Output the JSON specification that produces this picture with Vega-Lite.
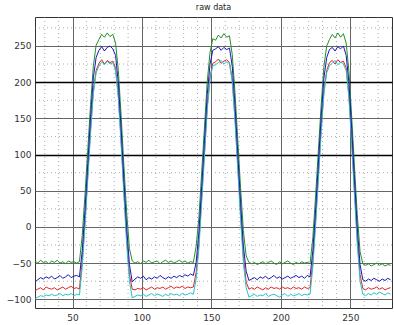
{
  "$schema": "https://vega.github.io/schema/vega-lite/v6.json",
  "width": 357,
  "height": 291,
  "autosize": {"type": "none"},
  "padding": {"left": 35, "top": 17, "right": 2, "bottom": 17},
  "background": "white",
  "title": {"text": "raw data", "fontSize": 8, "fontWeight": "normal", "font": "DejaVu Sans", "color": "#222", "offset": 5},
  "config": {
    "view": {"stroke": "#333", "strokeWidth": 1},
    "axis": {"labelFont": "DejaVu Sans", "labelFontSize": 9, "labelColor": "#333", "ticks": false, "domain": false, "title": null}
  },
  "datasets": {
    "raw": [
      {"x":23,"g":-47,"b":-76,"r":-88,"c":-99},
      {"x":25,"g":-50,"b":-73,"r":-86,"c":-97},
      {"x":27,"g":-46,"b":-70,"r":-84,"c":-95},
      {"x":29,"g":-49,"b":-72,"r":-87,"c":-96},
      {"x":31,"g":-48,"b":-69,"r":-83,"c":-94},
      {"x":33,"g":-51,"b":-71,"r":-85,"c":-95},
      {"x":35,"g":-47,"b":-68,"r":-86,"c":-93},
      {"x":37,"g":-49,"b":-72,"r":-84,"c":-95},
      {"x":39,"g":-46,"b":-70,"r":-87,"c":-94},
      {"x":41,"g":-50,"b":-67,"r":-85,"c":-92},
      {"x":43,"g":-48,"b":-71,"r":-83,"c":-95},
      {"x":45,"g":-51,"b":-69,"r":-86,"c":-93},
      {"x":47,"g":-47,"b":-66,"r":-84,"c":-94},
      {"x":49,"g":-49,"b":-70,"r":-82,"c":-92},
      {"x":51,"g":-48,"b":-68,"r":-85,"c":-95},
      {"x":53,"g":-50,"b":-67,"r":-84,"c":-93},
      {"x":55,"g":-48,"b":-69,"r":-86,"c":-94},
      {"x":57,"g":-12,"b":-33,"r":-47,"c":-56},
      {"x":59,"g":45,"b":24,"r":9,"c":2},
      {"x":61,"g":107,"b":88,"r":72,"c":66},
      {"x":63,"g":169,"b":152,"r":135,"c":130},
      {"x":65,"g":222,"b":206,"r":188,"c":184},
      {"x":67,"g":251,"b":234,"r":216,"c":213},
      {"x":69,"g":259,"b":244,"r":226,"c":222},
      {"x":71,"g":266,"b":249,"r":231,"c":228},
      {"x":73,"g":262,"b":243,"r":225,"c":224},
      {"x":75,"g":268,"b":248,"r":230,"c":229},
      {"x":77,"g":263,"b":250,"r":227,"c":225},
      {"x":79,"g":266,"b":246,"r":229,"c":227},
      {"x":81,"g":254,"b":237,"r":220,"c":216},
      {"x":83,"g":216,"b":199,"r":182,"c":178},
      {"x":85,"g":154,"b":136,"r":119,"c":114},
      {"x":87,"g":85,"b":66,"r":50,"c":44},
      {"x":89,"g":20,"b":-1,"r":-16,"c":-24},
      {"x":91,"g":-30,"b":-52,"r":-66,"c":-75},
      {"x":93,"g":-47,"b":-76,"r":-86,"c":-98},
      {"x":95,"g":-50,"b":-72,"r":-87,"c":-96},
      {"x":97,"g":-48,"b":-69,"r":-85,"c":-94},
      {"x":99,"g":-51,"b":-71,"r":-86,"c":-95},
      {"x":101,"g":-47,"b":-68,"r":-84,"c":-93},
      {"x":103,"g":-49,"b":-73,"r":-87,"c":-96},
      {"x":105,"g":-46,"b":-70,"r":-85,"c":-94},
      {"x":107,"g":-50,"b":-72,"r":-83,"c":-92},
      {"x":109,"g":-48,"b":-69,"r":-86,"c":-95},
      {"x":111,"g":-47,"b":-71,"r":-84,"c":-93},
      {"x":113,"g":-51,"b":-67,"r":-85,"c":-94},
      {"x":115,"g":-48,"b":-70,"r":-83,"c":-96},
      {"x":117,"g":-46,"b":-72,"r":-86,"c":-93},
      {"x":119,"g":-49,"b":-69,"r":-84,"c":-95},
      {"x":121,"g":-47,"b":-71,"r":-82,"c":-92},
      {"x":123,"g":-50,"b":-68,"r":-85,"c":-94},
      {"x":125,"g":-48,"b":-70,"r":-83,"c":-93},
      {"x":127,"g":-46,"b":-67,"r":-84,"c":-95},
      {"x":129,"g":-49,"b":-69,"r":-82,"c":-92},
      {"x":131,"g":-47,"b":-66,"r":-85,"c":-94},
      {"x":133,"g":-50,"b":-68,"r":-83,"c":-93},
      {"x":135,"g":-48,"b":-65,"r":-84,"c":-91},
      {"x":137,"g":-49,"b":-67,"r":-83,"c":-93},
      {"x":139,"g":-27,"b":-49,"r":-63,"c":-72},
      {"x":141,"g":13,"b":-7,"r":-22,"c":-30},
      {"x":143,"g":76,"b":56,"r":41,"c":34},
      {"x":145,"g":138,"b":120,"r":103,"c":98},
      {"x":147,"g":201,"b":183,"r":166,"c":162},
      {"x":149,"g":241,"b":225,"r":207,"c":204},
      {"x":151,"g":260,"b":244,"r":226,"c":223},
      {"x":153,"g":258,"b":246,"r":228,"c":224},
      {"x":155,"g":265,"b":249,"r":232,"c":227},
      {"x":157,"g":261,"b":244,"r":226,"c":230},
      {"x":159,"g":267,"b":248,"r":229,"c":225},
      {"x":161,"g":262,"b":245,"r":231,"c":228},
      {"x":163,"g":264,"b":247,"r":227,"c":226},
      {"x":165,"g":238,"b":222,"r":204,"c":200},
      {"x":167,"g":185,"b":168,"r":151,"c":146},
      {"x":169,"g":120,"b":101,"r":85,"c":79},
      {"x":171,"g":54,"b":34,"r":19,"c":12},
      {"x":173,"g":-5,"b":-26,"r":-41,"c":-49},
      {"x":175,"g":-40,"b":-61,"r":-76,"c":-84},
      {"x":177,"g":-49,"b":-74,"r":-86,"c":-97},
      {"x":179,"g":-51,"b":-72,"r":-84,"c":-95},
      {"x":181,"g":-49,"b":-70,"r":-86,"c":-93},
      {"x":183,"g":-52,"b":-73,"r":-83,"c":-96},
      {"x":185,"g":-50,"b":-69,"r":-85,"c":-94},
      {"x":187,"g":-48,"b":-71,"r":-87,"c":-95},
      {"x":189,"g":-51,"b":-68,"r":-84,"c":-92},
      {"x":191,"g":-49,"b":-72,"r":-86,"c":-96},
      {"x":193,"g":-47,"b":-70,"r":-83,"c":-94},
      {"x":195,"g":-50,"b":-67,"r":-85,"c":-93},
      {"x":197,"g":-52,"b":-71,"r":-84,"c":-95},
      {"x":199,"g":-48,"b":-69,"r":-86,"c":-97},
      {"x":201,"g":-51,"b":-72,"r":-83,"c":-94},
      {"x":203,"g":-49,"b":-70,"r":-85,"c":-92},
      {"x":205,"g":-47,"b":-68,"r":-84,"c":-96},
      {"x":207,"g":-50,"b":-71,"r":-86,"c":-93},
      {"x":209,"g":-52,"b":-69,"r":-83,"c":-95},
      {"x":211,"g":-49,"b":-67,"r":-85,"c":-94},
      {"x":213,"g":-51,"b":-70,"r":-84,"c":-92},
      {"x":215,"g":-48,"b":-68,"r":-86,"c":-95},
      {"x":217,"g":-50,"b":-71,"r":-83,"c":-93},
      {"x":219,"g":-49,"b":-67,"r":-85,"c":-94},
      {"x":221,"g":-51,"b":-69,"r":-84,"c":-93},
      {"x":223,"g":-15,"b":-33,"r":-47,"c":-56},
      {"x":225,"g":43,"b":24,"r":9,"c":2},
      {"x":227,"g":106,"b":88,"r":72,"c":66},
      {"x":229,"g":168,"b":152,"r":135,"c":130},
      {"x":231,"g":222,"b":206,"r":188,"c":184},
      {"x":233,"g":250,"b":234,"r":216,"c":213},
      {"x":235,"g":259,"b":245,"r":227,"c":223},
      {"x":237,"g":266,"b":248,"r":230,"c":226},
      {"x":239,"g":261,"b":243,"r":225,"c":230},
      {"x":241,"g":268,"b":249,"r":231,"c":224},
      {"x":243,"g":262,"b":246,"r":227,"c":228},
      {"x":245,"g":267,"b":250,"r":229,"c":225},
      {"x":247,"g":254,"b":237,"r":220,"c":216},
      {"x":249,"g":215,"b":199,"r":182,"c":178},
      {"x":251,"g":152,"b":136,"r":119,"c":114},
      {"x":253,"g":83,"b":66,"r":50,"c":44},
      {"x":255,"g":17,"b":-1,"r":-16,"c":-24},
      {"x":257,"g":-34,"b":-52,"r":-66,"c":-75},
      {"x":259,"g":-51,"b":-73,"r":-85,"c":-93},
      {"x":261,"g":-53,"b":-75,"r":-87,"c":-95},
      {"x":263,"g":-51,"b":-72,"r":-84,"c":-92},
      {"x":265,"g":-54,"b":-74,"r":-86,"c":-94},
      {"x":267,"g":-52,"b":-71,"r":-85,"c":-91},
      {"x":269,"g":-50,"b":-73,"r":-83,"c":-93},
      {"x":271,"g":-53,"b":-75,"r":-86,"c":-90},
      {"x":273,"g":-51,"b":-72,"r":-84,"c":-92},
      {"x":275,"g":-54,"b":-74,"r":-87,"c":-94},
      {"x":277,"g":-52,"b":-71,"r":-85,"c":-91},
      {"x":279,"g":-53,"b":-73,"r":-84,"c":-93}
    ],
    "xminor": [
      {"x":30},{"x":40},{"x":60},{"x":70},{"x":80},{"x":90},{"x":110},{"x":120},{"x":130},{"x":140},
      {"x":160},{"x":170},{"x":180},{"x":190},{"x":210},{"x":220},{"x":230},{"x":240},{"x":260},{"x":270}
    ],
    "yminor": [
      {"y":-75},{"y":-25},{"y":25},{"y":75},{"y":125},{"y":175},{"y":225},{"y":275}
    ]
  },
  "layer": [
    {
      "data": {"name": "xminor"},
      "mark": {"type": "rule", "stroke": "#777", "strokeWidth": 1, "strokeDash": [1, 3], "opacity": 0.6},
      "encoding": {
        "x": {"field": "x", "type": "quantitative", "scale": {"domain": [23, 280], "nice": false, "zero": false},
              "axis": {"values": [50, 100, 150, 200, 250], "grid": true, "gridColor": "#666", "gridWidth": 1, "labelPadding": 5}}
      }
    },
    {
      "data": {"name": "yminor"},
      "mark": {"type": "rule", "stroke": "#777", "strokeWidth": 1, "strokeDash": [1, 3], "opacity": 0.6},
      "encoding": {
        "y": {"field": "y", "type": "quantitative", "scale": {"domain": [-112, 290], "nice": false, "zero": false},
              "axis": {"values": [-100, -50, 0, 50, 100, 150, 200, 250], "grid": true,
                       "gridColor": {"condition": {"test": "datum.value === 100 || datum.value === 200", "value": "#000"}, "value": "#666"},
                       "gridWidth": {"condition": {"test": "datum.value === 100 || datum.value === 200", "value": 1.6}, "value": 1},
                       "labelPadding": 4}}
      }
    },
    {
      "data": {"name": "raw"},
      "transform": [{"fold": ["g", "r", "c", "b"], "as": ["series", "value"]}],
      "mark": {"type": "line", "strokeWidth": 1},
      "encoding": {
        "x": {"field": "x", "type": "quantitative"},
        "y": {"field": "value", "type": "quantitative"},
        "color": {"field": "series", "type": "nominal", "legend": null,
                  "scale": {"domain": ["g", "r", "c", "b"], "range": ["#22902a", "#e02424", "#22c4c8", "#1818b8"]}},
        "order": {"field": "x", "type": "quantitative"}
      }
    }
  ]
}
